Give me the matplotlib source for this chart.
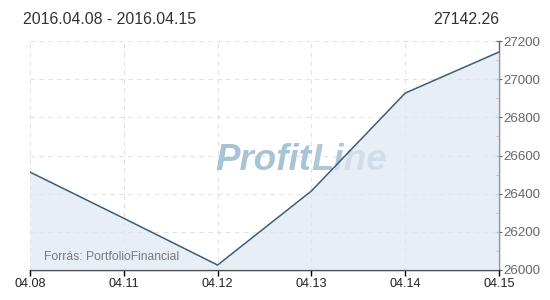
import matplotlib
matplotlib.use("Agg")
import matplotlib.pyplot as plt
from matplotlib.ticker import MultipleLocator

dates = ["04.08", "04.11", "04.12", "04.13", "04.14", "04.15"]
values = [26513, 26271, 26026, 26414, 26927, 27142.26]
yticks = [26000, 26200, 26400, 26600, 26800, 27000, 27200]
title_left = "2016.04.08 - 2016.04.15"
title_right = "27142.26"
source = "Forrás: PortfolioFinancial"

plt.rcParams['font.family'] = ['Liberation Sans', 'DejaVu Sans']

W, H = 550, 300
fig = plt.figure(figsize=(W / 100, H / 100), dpi=100)
ax = fig.add_axes([30 / W, 1 - 270 / H, (499 - 30) / W, (270 - 41) / H])

x = list(range(len(dates)))
ax.fill_between(x, values, 26000, color="#dfe8f2", alpha=0.7, zorder=3, linewidth=0)
ax.plot(x, values, color="#3f5b73", linewidth=1.1, zorder=4)

ax.set_xlim(0, len(dates) - 1)
ax.set_ylim(yticks[0], yticks[-1])
ax.set_xticks(x)
ax.set_xticklabels(dates)
ax.set_yticks(yticks)
ax.yaxis.set_minor_locator(MultipleLocator(100))
ax.yaxis.tick_right()

ax.grid(True, which="major", color="#e2e2e2", linestyle=(0, (4, 4)), linewidth=0.8, zorder=0)
ax.set_axisbelow(True)

for s in ["left", "top"]:
    ax.spines[s].set_visible(False)
ax.spines["bottom"].set_color("black")
ax.spines["bottom"].set_linewidth(1.0)
ax.spines["right"].set_color("#666666")
ax.spines["right"].set_linewidth(1.0)

ax.tick_params(axis="x", direction="out", length=4, width=1, color="black",
               labelsize=9.1, labelcolor="#222222", pad=2)
ax.tick_params(axis="y", which="major", direction="inout", length=5, width=0.8,
               color="#666666", labelsize=9.6, labelcolor="#666666", pad=1)
ax.tick_params(axis="y", which="minor", direction="in", length=2.5, width=0.8,
               color="#ff3333")

# watermark (drawn below the line)
base_y = 1 - 170 / H
t = ax.text(215 / W, base_y, "Profit", fontsize=26.5, fontweight="bold",
            fontstyle="italic", color="#a8c4d4", ha="left", va="baseline",
            transform=fig.transFigure, zorder=2)
fig.canvas.draw()
bb = t.get_window_extent()
ax.text(bb.x1 / W, base_y, "Line", fontsize=26.5, fontweight="bold",
        fontstyle="italic", color="#b0c9d7", ha="left", va="baseline",
        transform=fig.transFigure, zorder=2)

fig.text(44 / W, 1 - 257 / H, source, fontsize=8.7, color="#7a7a7a",
         ha="left", va="center")

fig.text(23 / W, 1 - 20 / H, title_left, fontsize=11.4, color="#333333",
         ha="left", va="center")
fig.text(499 / W, 1 - 20 / H, title_right, fontsize=11.4, color="#333333",
         ha="right", va="center")

fig.savefig("out.png", dpi=100)
